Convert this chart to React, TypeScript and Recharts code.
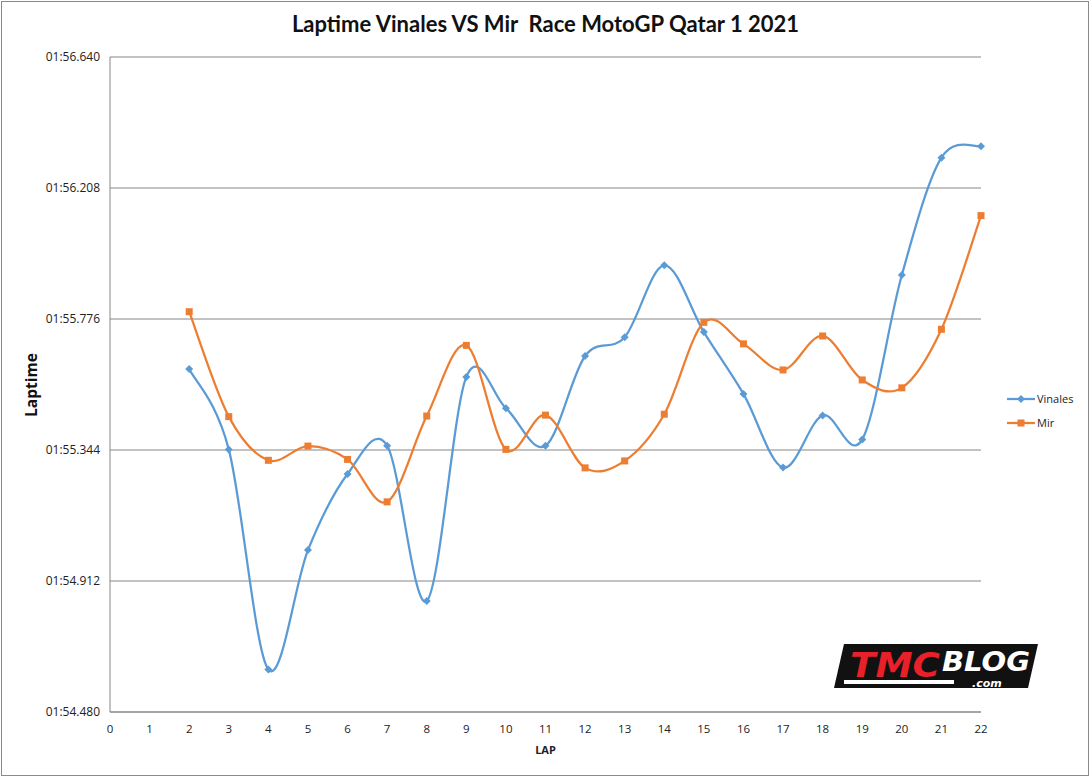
import React from "react";
import { LineChart, Line, XAxis, YAxis, CartesianGrid } from "recharts";

// lap numbers and lap times (seconds)
const laps = [2, 3, 4, 5, 6, 7, 8, 9, 10, 11, 12, 13, 14, 15, 16, 17, 18, 19, 20, 21, 22];
const vinales = [
  115.611, 115.346, 114.62, 115.014, 115.265, 115.358, 114.846, 115.585, 115.482, 115.358, 115.654,
  115.716, 115.953, 115.733, 115.529, 115.286, 115.458, 115.379, 115.921, 116.308, 116.346,
];
const mir = [
  115.8, 115.454, 115.31, 115.357, 115.313, 115.173, 115.456, 115.689, 115.346, 115.459, 115.285,
  115.308, 115.462, 115.765, 115.694, 115.608, 115.72, 115.575, 115.549, 115.742, 116.117,
];
const xTicks = [0, 1, 2, 3, 4, 5, 6, 7, 8, 9, 10, 11, 12, 13, 14, 15, 16, 17, 18, 19, 20, 21, 22];
const yTicks = [114.48, 114.912, 115.344, 115.776, 116.208, 116.64];

const data = laps.map((lap, i) => ({ lap, Vinales: vinales[i], Mir: mir[i] }));

const BLUE = "#5B9BD5";
const ORANGE = "#ED7D31";
const GRID = "#868686";
const FONT = "'Open Sans', 'Liberation Sans', sans-serif";

const fmtTime = (v: number) => {
  const m = Math.floor(v / 60);
  const s = (v - m * 60).toFixed(3);
  return "0" + m + ":" + (s.length < 6 ? "0" + s : s);
};

// excel-like smoothing: catmull-rom through every point
const excelCurve = (ctx: any) => {
  let pts: number[][] = [];
  return {
    areaStart() {},
    areaEnd() {},
    lineStart() {
      pts = [];
    },
    point(x: number, y: number) {
      pts.push([+x, +y]);
    },
    lineEnd() {
      if (!pts.length) return;
      ctx.moveTo(pts[0][0], pts[0][1]);
      for (let i = 0; i < pts.length - 1; i++) {
        const p0 = pts[i - 1] || pts[i];
        const p1 = pts[i];
        const p2 = pts[i + 1];
        const p3 = pts[i + 2] || p2;
        ctx.bezierCurveTo(
          p1[0] + (p2[0] - p0[0]) / 6,
          p1[1] + (p2[1] - p0[1]) / 6,
          p2[0] - (p3[0] - p1[0]) / 6,
          p2[1] - (p3[1] - p1[1]) / 6,
          p2[0],
          p2[1]
        );
      }
    },
  };
};

const Diamond = (props: any) => {
  const { cx, cy, index } = props;
  if (cx == null || cy == null) return <g key={index} />;
  const r = 4;
  return (
    <polygon
      key={index}
      points={`${cx},${cy - r} ${cx + r},${cy} ${cx},${cy + r} ${cx - r},${cy}`}
      fill={BLUE}
    />
  );
};

const Square = (props: any) => {
  const { cx, cy, index } = props;
  if (cx == null || cy == null) return <g key={index} />;
  return <rect key={index} x={cx - 3.5} y={cy - 3.5} width={7} height={7} fill={ORANGE} />;
};

const Logo = () => (
  <svg width={210} height={52} style={{ position: "absolute", left: 832, top: 640 }}>
    <polygon points="12,4 206,4 196,48 2,48" fill="#111" />
    <text x={18} y={37} fontFamily="'DejaVu Sans', sans-serif" fontWeight="bold" fontStyle="italic" fontSize={34} fill="#E8202A" textLength={90} lengthAdjust="spacingAndGlyphs">
      TMC
    </text>
    <text x={110} y={31} fontFamily="'DejaVu Sans', sans-serif" fontWeight="bold" fontStyle="italic" fontSize={27} fill="#fff" textLength={88} lengthAdjust="spacingAndGlyphs">
      BLOG
    </text>
    <rect x={12} y={40} width={110} height={4} fill="#fff" />
    <text x={140} y={47} fontFamily="'DejaVu Sans', sans-serif" fontWeight="bold" fontStyle="italic" fontSize={11} fill="#fff">
      .com
    </text>
  </svg>
);

const LegendRow = ({ top, name, color, square }: any) => (
  <div style={{ position: "absolute", left: 1007, top, display: "flex", alignItems: "center", fontFamily: FONT, fontSize: 11, color: "#222" }}>
    <svg width={28} height={10}>
      <line x1={0} y1={5} x2={28} y2={5} stroke={color} strokeWidth={2.25} />
      {square ? (
        <rect x={10.5} y={1.5} width={7} height={7} fill={color} />
      ) : (
        <polygon points="14,1 18,5 14,9 10,5" fill={color} />
      )}
    </svg>
    <span style={{ marginLeft: 2 }}>{name}</span>
  </div>
);

export default function App() {
  return (
    <div style={{ position: "absolute", left: 0, top: 0, width: 1091, height: 777, background: "#fff" }}>
      <div
        style={{
          position: "absolute",
          left: 1,
          top: 1,
          width: 1088,
          height: 775,
          border: "1px solid #8a8a8a",
          boxSizing: "border-box",
        }}
      />
      <div
        style={{
          position: "absolute",
          left: 0,
          width: 1091,
          top: 10,
          textAlign: "center",
          fontFamily: "Lato, 'Open Sans', sans-serif",
          fontWeight: 700,
          fontSize: 22,
          color: "#111",
          whiteSpace: "pre",
        }}
      >
        {"Laptime Vinales VS Mir  Race MotoGP Qatar 1 2021"}
      </div>
      <div
        style={{
          position: "absolute",
          left: 31,
          top: 385,
          transform: "translate(-50%, -50%) rotate(-90deg)",
          fontFamily: FONT,
          fontWeight: 700,
          fontSize: 15.5,
          color: "#111",
          whiteSpace: "nowrap",
        }}
      >
        Laptime
      </div>
      <LineChart
        width={1091}
        height={777}
        data={data}
        margin={{ top: 57, right: 110, bottom: 20, left: 0 }}
        style={{ position: "absolute", left: 0, top: 0 }}
      >
        <CartesianGrid vertical={false} stroke={GRID} strokeWidth={1} />
        <XAxis
          dataKey="lap"
          type="number"
          domain={[0, 22]}
          ticks={xTicks}
          interval={0}
          height={45}
          tickLine={false}
          tickMargin={7}
          axisLine={{ stroke: GRID }}
          tick={{ fontSize: 11.5, fill: "#222", fontFamily: FONT }}
          label={{ value: "LAP", position: "insideBottom", offset: 3, fontSize: 11, fontWeight: 700, fill: "#222", fontFamily: FONT }}
        />
        <YAxis
          type="number"
          domain={[114.48, 116.64]}
          ticks={yTicks}
          interval={0}
          width={110}
          tickLine={false}
          tickMargin={4}
          tickFormatter={fmtTime}
          axisLine={{ stroke: GRID }}
          tick={{ fontSize: 12, fill: "#222", fontFamily: FONT }}
        />
        <Line
          dataKey="Vinales"
          type={excelCurve as any}
          stroke={BLUE}
          strokeWidth={2.25}
          dot={Diamond}
          activeDot={false}
          isAnimationActive={false}
        />
        <Line
          dataKey="Mir"
          type={excelCurve as any}
          stroke={ORANGE}
          strokeWidth={2.25}
          dot={Square}
          activeDot={false}
          isAnimationActive={false}
        />
      </LineChart>
      <LegendRow top={391} name="Vinales" color={BLUE} />
      <LegendRow top={415} name="Mir" color={ORANGE} square />
      <Logo />
    </div>
  );
}
